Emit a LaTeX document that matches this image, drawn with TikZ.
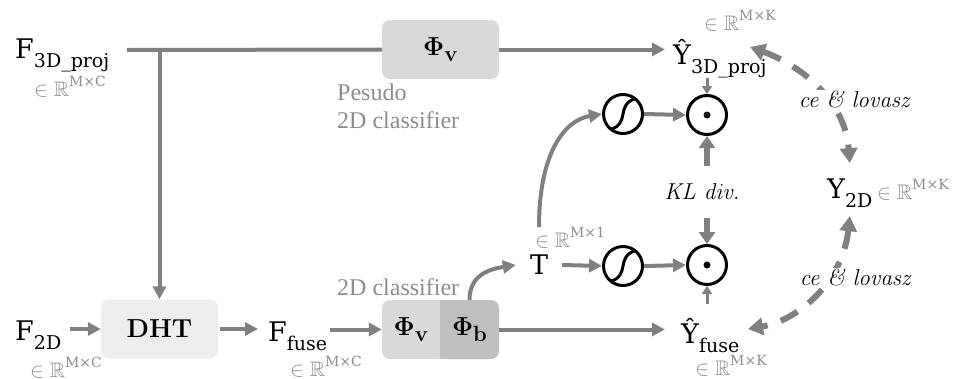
\RequirePackage{fix-cm}
\documentclass[tikz,border=0pt]{standalone}
\usepackage{amssymb}
\usepackage[no-math]{fontspec}
\setmainfont{Liberation Serif}
\newfontfamily\mfont{DejaVu Serif}
\usetikzlibrary{arrows.meta}

\definecolor{lgray}{HTML}{808080}
\definecolor{tgray}{HTML}{8C8C8C}
\definecolor{fillA}{HTML}{D9D9D9}
\definecolor{fillB}{HTML}{BFBFBF}
\definecolor{fillC}{HTML}{EDEDED}

% symbol with a lowered subscript
\newcommand\lsub[2]{#1\raisebox{-9pt}{\fontsize{19}{19}\selectfont #2}}
% "element of R^{...}" annotation
\newcommand\dimof[1]{{\fontsize{21}{21}\selectfont$\in\mathbb{R}$}\raisebox{10pt}{\mfont\fontsize{14}{14}\selectfont #1}}
% bold Phi with subscript
\newcommand\phisub[1]{$\mathbf{\Phi}$\raisebox{-6pt}{\fontsize{22}{22}\selectfont$\mathbf{#1}$}}
% italic serif used for the loss labels
\newcommand\lossfont{\fontencoding{OT1}\fontfamily{cmr}\fontshape{it}\fontsize{23}{28}\selectfont}
% sigmoid curve drawn inside a circle node
\newcommand\scurve[1]{\draw[black, line width=3pt]
  ([shift={(-12pt,-15.4pt)}]#1.center) .. controls ([shift={(-2pt,-12pt)}]#1.center) and ([shift={(-1pt,-5pt)}]#1.center) .. (#1.center)
  .. controls ([shift={(1pt,5pt)}]#1.center) and ([shift={(2pt,12pt)}]#1.center) .. ([shift={(12pt,15.4pt)}]#1.center);}

\begin{document}
\begin{tikzpicture}[x=1pt,y=-1pt,
  feedline/.style={draw=lgray, line width=4pt},
  conn/.style={draw=lgray, line width=4pt, -{Triangle[length=13pt,width=13pt]}},
  smallarrow/.style={draw=lgray, line width=3pt, -{Triangle[length=8pt,width=10pt]}},
  heavyarrow/.style={draw=lgray, line width=6pt, -{Triangle[length=12pt,width=16pt]}},
  loss/.style={draw=lgray, line width=6pt, dash pattern=on 19pt off 14pt,
    {Triangle[length=15pt,width=17pt]}-{Triangle[length=15pt,width=17pt]}},
  opnode/.style={circle, draw=black, line width=3pt, minimum size=39pt, inner sep=0pt},
  blockbox/.style={rounded corners=8pt, minimum width=117pt, minimum height=59pt, inner sep=0pt},
  halfbox/.style={minimum width=58pt, minimum height=59pt, inner sep=0pt},
  phifont/.style={font=\fontsize{26}{30}\selectfont},
  lbl/.style={inner sep=0pt, font=\mfont\fontsize{27}{30}\selectfont},
  dimtxt/.style={inner sep=0pt, text=tgray},
  gtxt/.style={inner sep=0pt, text=tgray, font=\fontsize{24}{28}\selectfont, align=left},
  itx/.style={inner sep=0pt, font=\lossfont},
]
\useasboundingbox (0,0) rectangle (968,378);

% ---- processing blocks ----
\node[blockbox, fill=fillA, phifont] (phitop) at (440.5,49.5) {\phisub{v}};
\node[blockbox, fill=fillC, font=\fontsize{26}{30}\selectfont] (dht) at (159.5,329) {$\mathbf{DHT}$};

% two-part 2D classifier
\fill[fillA, rounded corners=8pt] (382,300) rectangle (441,359);
\fill[fillA] (425,300) rectangle (441,359);
\fill[fillB, rounded corners=8pt] (440,300) rectangle (499,359);
\fill[fillB] (440,300) rectangle (456,359);
\node[halfbox, phifont] (phiv) at (411,329.5) {\phisub{v}};
\node[halfbox, phifont] (phib) at (469.5,329.5) {\phisub{b}};

% ---- feature / prediction labels ----
\node[lbl, anchor=base west] (f3d) at (15,58) {\lsub{F}{3D\_proj}};
\node[dimtxt] (f3dd) at (70,87) {\dimof{M×C}};
\node[lbl, anchor=base west] (f2d) at (15,340) {\lsub{F}{2D}};
\node[dimtxt] (f2dd) at (66,368) {\dimof{M×C}};
\node[lbl, anchor=base west] (ffuse) at (268,341) {\lsub{F}{fuse}};
\node[dimtxt] (ffused) at (326,367) {\dimof{M×C}};

\node[gtxt, anchor=north west] (pseudo) at (337,84) {Pesudo\\2D classifier};
\node[gtxt, anchor=base west] (cls2d) at (337,295) {2D classifier};

\node[lbl, minimum width=46pt] (t) at (539,265) {T};
\node[dimtxt] (td) at (570,238) {\dimof{M×1}};

\node[lbl, anchor=base west] (y3d) at (673,64) {\lsub{Ŷ}{3D\_proj}};
\node[dimtxt] (y3dd) at (740,21) {\dimof{M×K}};
\node[lbl, anchor=base west] (yfuse) at (681,343) {\lsub{Ŷ}{fuse}};
\node[dimtxt] (yfused) at (731,366) {\dimof{M×K}};
\node[lbl, anchor=base west] (y2d) at (827,198) {\lsub{Y}{2D}};
\node[dimtxt, anchor=west] (y2dd) at (877,190) {\dimof{M×K}};

% ---- sigmoid and product operators ----
\node[opnode] (su) at (623,114) {};
\node[opnode] (sl) at (623,266) {};
\node[opnode] (ou) at (707,115) {};
\node[opnode] (ol) at (707,265) {};
\scurve{su}
\scurve{sl}
\fill (ou.center) circle (3.5pt);
\fill (ol.center) circle (3.5pt);

\node[itx, minimum height=52pt] (kl) at (702,192) {KL div.};

% ---- connectors ----
\coordinate (s3d) at (127,50);
\coordinate (j) at (dht.north |- s3d);
\draw[feedline] (s3d) -- (phitop.west);
\draw[conn] (j) -- (dht.north);
\draw[conn, shorten >=8pt] (phitop.east) -- (phitop.east -| y3d.west);
\draw[conn, shorten <=9pt] (f2d.east |- dht.west) -- (dht.west);
\draw[conn, shorten <=2pt, shorten >=10pt] (dht.east) -- (dht.east -| ffuse.west);
\draw[conn, shorten <=3pt] (ffuse.east |- phiv.west) -- (phiv.west);
\draw[conn, shorten >=16pt] (phib.east) -- (phib.east -| yfuse.west);

\draw[conn] (phib.north) .. controls ([yshift=25pt]phib.north) and ([shift={(-26pt,-4pt)}]t.west) .. (t.west);
\draw[conn] (t.east) -- (sl.west);
\draw[conn] (t |- td.north) .. controls ([yshift=75pt]t |- td.north) and ([shift={(-37pt,-6pt)}]su.west) .. (su.west);
\draw[conn] (su.east) -- (ou.west);
\draw[conn] (sl.east) -- (ol.west);

\draw[smallarrow] (ou |- y3d.south) -- (ou.north);
\draw[smallarrow] ([yshift=14pt]ol |- yfuse.north) -- (ol.south);
\draw[heavyarrow] (ou |- kl.north) -- (ou.south);
\draw[heavyarrow] (ol |- kl.south) -- (ol.north);

% ---- supervision losses ----
\coordinate (la) at (750,47);
\coordinate (lc) at (748,329);
\draw[loss] (la) .. controls (800,65) and (845,100) .. ([yshift=15pt]y2d.north);
\draw[loss] ([yshift=-9pt]y2d.south) .. controls (843,280) and (800,320) .. (lc);
\node[itx, fill=white, inner sep=2pt] (ce1) at (854,100) {ce \& lovasz};
\node[itx, fill=white, inner sep=2pt] (ce2) at (855,278) {ce \& lovasz};
\end{tikzpicture}
\end{document}
